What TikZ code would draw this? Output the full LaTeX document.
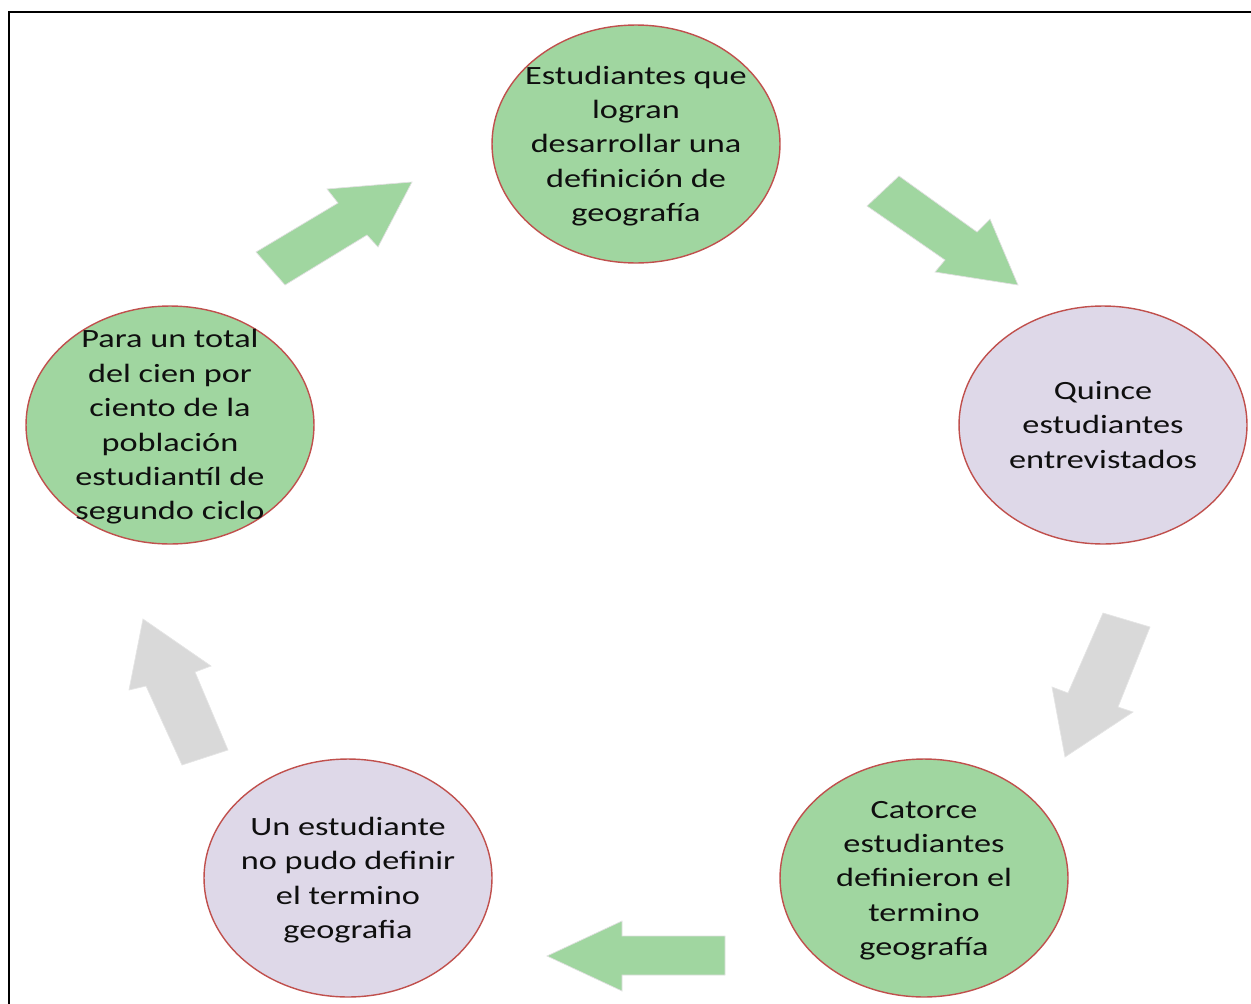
\documentclass[tikz,border=0pt]{standalone}
\usepackage{fontspec}
\usepackage{graphicx}
\setmainfont{Carlito}
\usetikzlibrary{shapes.geometric}
\definecolor{gfill}{RGB}{160,214,160}
\definecolor{pfill}{RGB}{222,216,232}
\definecolor{eborder}{RGB}{192,80,77}
\definecolor{graydark}{RGB}{217,217,217}
\definecolor{txt}{RGB}{15,15,15}
\newcommand{\wtext}[1]{\fontsize{15}{19.6}\selectfont\scalebox{1.3}[1]{\begin{tabular}{@{}c@{}}#1\end{tabular}}}
\tikzset{
  ell/.style={ellipse, draw=eborder, line width=0.8pt, minimum width=5.76cm, minimum height=4.76cm, inner sep=0pt},
  greenell/.style={ell, fill=gfill},
  purpell/.style={ell, fill=pfill},
  etext/.style={inner sep=0pt, text=txt, yshift=-0.04cm},
  garrow/.style={fill=gfill, draw=black!12, line width=0.4pt, line join=miter},
  yarrow/.style={fill=graydark, draw=black!10, line width=0.4pt, line join=miter},
  frameline/.style={line width=1.7pt, black}
}
\begin{document}
\begin{tikzpicture}[x=0.02cm, y=-0.02cm]
\useasboundingbox (0,0) rectangle (1251,1004);
\draw[frameline] (9,1004) -- (9,12) -- (1251,12);

\node[greenell] (e1) at (636,144) {};
\node[purpell] (e2) at (1103,425) {};
\node[greenell] (e3) at (924,878) {};
\node[purpell] (e4) at (348,878) {};
\node[greenell] (e5) at (170,425) {};

\node[etext] (t1) at (e1.center) {\wtext{Estudiantes que\\logran\\desarrollar una\\definición de\\geografía}};
\node[etext] (t2) at (e2.center) {\wtext{Quince\\estudiantes\\entrevistados}};
\node[etext] (t3) at (e3.center) {\wtext{Catorce\\estudiantes\\definieron el\\termino\\geografía}};
\node[etext] (t4) at (e4.center) {\wtext{Un estudiante\\no pudo definir\\el termino\\geografia}};
\node[etext] (t5) at (e5.center) {\wtext{Para un total\\del cien por\\ciento de la\\población\\estudiantíl de\\segundo ciclo}};

% block arrows
\draw[garrow] (285,285) -- (256,252) -- (338,203) -- (327,189) -- (412,182) -- (378,247) -- (367,235) -- cycle;
\draw[garrow] (899,176) -- (867,206) -- (945,260) -- (935,272) -- (1018,285) -- (990,219) -- (977,232) -- cycle;
\draw[yarrow] (1103,613) -- (1150,627) -- (1118,707) -- (1133,712) -- (1065,757) -- (1052,687) -- (1068,693) -- cycle;
\draw[garrow] (725,936) -- (725,975) -- (622,975) -- (622,991) -- (547,956) -- (622,921) -- (622,936) -- cycle;
\draw[yarrow] (228,750) -- (182,765) -- (146,686) -- (129,690) -- (143,619) -- (211,666) -- (195,672) -- cycle;
\end{tikzpicture}
\end{document}
